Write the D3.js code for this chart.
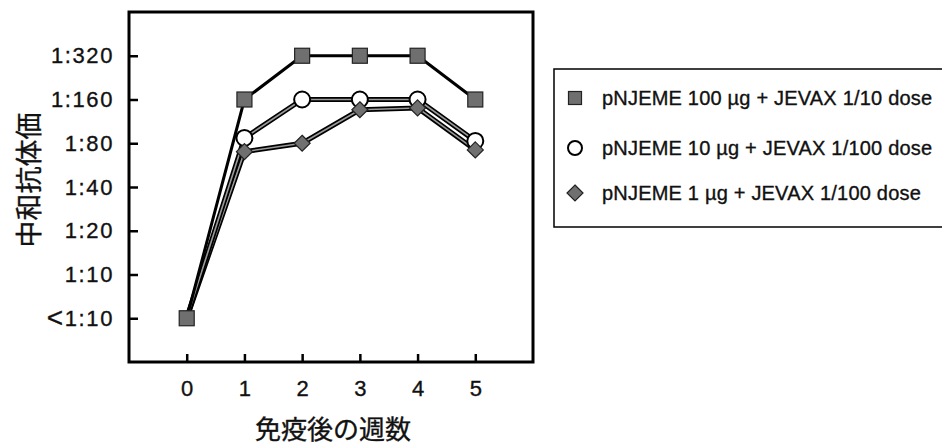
<!DOCTYPE html>
<html>
<head>
<meta charset="utf-8">
<script src="https://cdn.jsdelivr.net/npm/d3@7"></script>
<style>
  html, body { margin: 0; padding: 0; background: #fff; }
  svg { display: block; }
  text { font-family: "Liberation Sans", Arial, sans-serif; fill: #111; stroke: #111; stroke-width: 0.35px; }
  .cjk { font-family: "Noto Sans CJK JP", "Noto Sans CJK SC", sans-serif; }
</style>
</head>
<body>
<script>
// ---- data ----
const weeks = [0, 1, 2, 3, 4, 5];
const seriesNames = [
  "pNJEME 100 µg + JEVAX 1/10 dose",
  "pNJEME 10 µg + JEVAX 1/100 dose",
  "pNJEME 1 µg + JEVAX 1/100 dose"
];
// reciprocal titers (5 represents <1:10)
const s100 = [5, 160, 320, 320, 320, 160];
const s10  = [5, 87, 160, 160, 160, 83];
const s1   = [5, 70, 80, 136, 140, 72];
const yTickValues = [5, 10, 20, 40, 80, 160, 320];
const yTickLabels = ["<1:10", "1:10", "1:20", "1:40", "1:80", "1:160", "1:320"];
const xTitle = "免疫後の週数";
const yTitle = "中和抗体価";

const W = 942, H = 445;
const svg = d3.select("body").append("svg").attr("width", W).attr("height", H);

const x = d3.scaleLinear().domain([-1, 6]).range([129, 533]);
const y = d3.scaleLog().base(2).domain([2.5, 640]).range([362, 12]);

// frame
svg.append("rect")
  .attr("x", x.range()[0]).attr("y", y.range()[1])
  .attr("width", x.range()[1] - x.range()[0])
  .attr("height", y.range()[0] - y.range()[1])
  .attr("fill", "none").attr("stroke", "#000").attr("stroke-width", 3);

// y axis (ticks inward)
const yAxis = d3.axisLeft(y).tickValues(yTickValues)
  .tickFormat((d, i) => yTickLabels[i]).tickSizeInner(-9).tickSizeOuter(0).tickPadding(15);
const gy = svg.append("g").attr("transform", `translate(${x.range()[0]},0)`).call(yAxis);
gy.select(".domain").remove();
gy.selectAll(".tick line").attr("stroke", "#000").attr("stroke-width", 2.5);
gy.selectAll(".tick text").attr("x", -15).attr("font-size", 22).attr("letter-spacing", 1.6)
  .attr("font-family", "'Liberation Sans', sans-serif").attr("fill", "#111");
// enlarge the "<" sign like the reference
gy.selectAll(".tick text").each(function () {
  const t = d3.select(this);
  const s = t.text();
  if (s.startsWith("<")) {
    t.text(null).attr("dy", null);
    t.append("tspan").attr("font-size", 28).attr("dy", "8px").text("<");
    t.append("tspan").attr("dy", "-0.8px").text(s.slice(1));
  }
});

// x axis (ticks inward)
const xAxis = d3.axisBottom(x).tickValues(weeks).tickFormat(d3.format("d"))
  .tickSizeInner(-8).tickSizeOuter(0).tickPadding(18);
const gx = svg.append("g").attr("transform", `translate(0,${y.range()[0]})`).call(xAxis);
gx.select(".domain").remove();
gx.selectAll(".tick line").attr("stroke", "#000").attr("stroke-width", 2.5);
gx.selectAll(".tick text").attr("y", 26).attr("dy", "0.35em").attr("font-size", 22)
  .attr("font-family", "'Liberation Sans', sans-serif").attr("fill", "#111");

// titles
svg.append("text").attr("class", "cjk")
  .attr("x", 333).attr("y", 427).attr("text-anchor", "middle")
  .attr("dominant-baseline", "central").attr("font-size", 26).text(xTitle);
svg.append("text").attr("class", "cjk")
  .attr("transform", "translate(27,180) rotate(-90)").attr("text-anchor", "middle")
  .attr("dominant-baseline", "central").attr("font-size", 27).text(yTitle);

const line = d3.line().x((d, i) => x(weeks[i])).y(d => y(d));

// lines: 10 µg (circle) and 1 µg (diamond) have double-edged gray lines
[s1, s10].forEach(s => {
  svg.append("path").datum(s).attr("d", line).attr("fill", "none")
    .attr("stroke", "#000").attr("stroke-width", 5).attr("stroke-linejoin", "round");
  svg.append("path").datum(s).attr("d", line).attr("fill", "none")
    .attr("stroke", "#9a9a9a").attr("stroke-width", 1.6).attr("stroke-linejoin", "round");
});
svg.append("path").datum(s100).attr("d", line).attr("fill", "none")
  .attr("stroke", "#000").attr("stroke-width", 3).attr("stroke-linejoin", "round");

// markers
const sq = 15, cr = 8, dm = 8;
function drawSquare(g, cx, cy, size) {
  g.append("rect").attr("x", cx - size / 2).attr("y", cy - size / 2)
    .attr("width", size).attr("height", size)
    .attr("fill", "#6f6f6f").attr("stroke", "#222").attr("stroke-width", 1.2);
}
function drawCircle(g, cx, cy, r) {
  g.append("circle").attr("cx", cx).attr("cy", cy).attr("r", r)
    .attr("fill", "#fff").attr("stroke", "#000").attr("stroke-width", 2);
}
function drawDiamond(g, cx, cy, r) {
  g.append("path").attr("d", `M${cx},${cy - r}L${cx + r},${cy}L${cx},${cy + r}L${cx - r},${cy}Z`)
    .attr("fill", "#707070").attr("stroke", "#222").attr("stroke-width", 1.2);
}
const mk = svg.append("g");
s10.forEach((d, i) => { if (i > 0) drawCircle(mk, x(weeks[i]), y(d), cr); });
s1.forEach((d, i) => { if (i > 0) drawDiamond(mk, x(weeks[i]), y(d), dm); });
s100.forEach((d, i) => drawSquare(mk, x(weeks[i]), y(d), sq));

// legend
const lg = svg.append("g");
lg.append("rect").attr("x", 554).attr("y", 69).attr("width", 420).attr("height", 158)
  .attr("fill", "none").attr("stroke", "#000").attr("stroke-width", 1.5);
const rowsY = [98, 148, 193];
drawSquare(lg, 575, rowsY[0], 13);
drawCircle(lg, 575, rowsY[1], 7);
drawDiamond(lg, 575, rowsY[2], 8);
seriesNames.forEach((n, i) => {
  lg.append("text").attr("x", 602).attr("y", rowsY[i]).attr("dominant-baseline", "central")
    .attr("font-size", 20).attr("letter-spacing", 0.2).text(n);
});
</script>
</body>
</html>
